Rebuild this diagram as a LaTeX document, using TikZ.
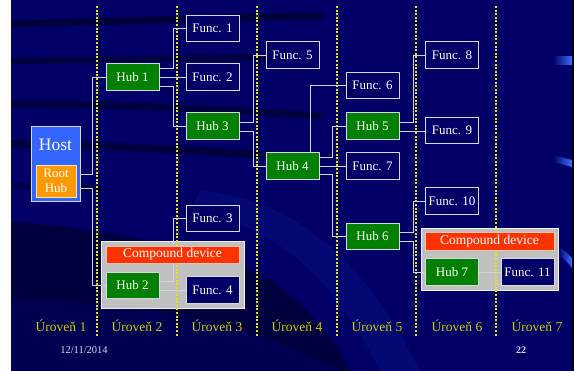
\documentclass[tikz,border=0pt]{standalone}
\usepackage{fontspec}
\setmainfont{Liberation Serif}
\usetikzlibrary{calc}

\definecolor{slidebg}{RGB}{0,0,102}
\definecolor{streakcol}{RGB}{0,0,30}
\definecolor{glowcol}{RGB}{20,30,150}
\definecolor{nodenavy}{RGB}{0,0,102}
\definecolor{hubgreen}{RGB}{0,128,0}
\definecolor{hostblue}{RGB}{51,102,255}
\definecolor{rootorange}{RGB}{255,153,0}
\definecolor{cdred}{RGB}{255,51,0}
\definecolor{cdgray}{RGB}{192,192,192}
\definecolor{edgecol}{RGB}{215,215,225}
\definecolor{wirecol}{RGB}{210,210,220}
\definecolor{levelyellow}{RGB}{204,204,0}
\definecolor{dotyellow}{RGB}{230,230,0}
\definecolor{glintblue}{RGB}{60,110,255}

\tikzset{
  box/.style={rectangle, draw=edgecol, line width=0.9pt, inner sep=0pt,
    minimum width=53pt, minimum height=26.5pt, text=white,
    font=\fontsize{13}{15}\selectfont},
  funcbox/.style={box, fill=nodenavy},
  hubbox/.style={box, fill=hubgreen},
  wire/.style={draw=wirecol, line width=0.9pt},
  levelline/.style={draw=dotyellow, line width=1.1pt, dash pattern=on 2pt off 1.6pt},
  leveltext/.style={text=levelyellow, font=\fontsize{13.5}{15}\selectfont, inner sep=0pt},
  streak/.style={draw=streakcol, line cap=round, opacity=0.75},
  cdframe/.style={rectangle, fill=cdgray, draw=white!80!cdgray, line width=0.8pt, inner sep=0pt},
  cdlabel/.style={rectangle, fill=cdred, draw=white!70!cdred, line width=0.6pt, inner sep=0pt,
    text=white, font=\fontsize{13.5}{15}\selectfont},
}

\begin{document}
\begin{tikzpicture}[x=1pt, y=-1pt]
\useasboundingbox (0,0) rectangle (574,371);

% slide background
\fill[white] (0,0) rectangle (11,371);
\fill[slidebg] (11,0) rectangle (572,371);
\fill[black] (572,0) rectangle (574,371);

% decorative dark sweeps of the slide template
\begin{scope}
  \clip (11,0) rectangle (572,371);
  \draw[streak, line width=7pt, opacity=0.6] (8,24) .. controls (120,21) and (220,18) .. (320,16);
  \draw[streak, line width=6pt, opacity=0.5] (8,61) .. controls (100,60) and (200,58) .. (290,57);
  \draw[streak, line width=7pt, opacity=0.5] (8,104) .. controls (100,104) and (200,108) .. (320,116);
  \draw[streak, line width=8pt, opacity=0.5] (8,144) .. controls (100,145) and (200,150) .. (300,158);
  \draw[streak, line width=6pt, opacity=0.4] (8,186) .. controls (40,186) and (70,187) .. (100,189);
  \fill[glowcol, opacity=0.25] (200,190) .. controls (290,200) and (360,250) .. (420,371)
        -- (380,371) .. controls (330,270) and (270,225) .. (190,210) -- cycle;
  \fill[streakcol, opacity=0.55] (8,222) .. controls (80,226) and (160,240) .. (240,265)
        .. controls (290,285) and (330,330) .. (350,371) -- (8,371) -- cycle;
  \fill[slidebg, opacity=0.55] (8,300) .. controls (120,300) and (250,320) .. (340,371) -- (8,371) -- cycle;
  % blue glints on the right edge
  \shade[left color=slidebg, right color=glintblue] (553,57) rectangle (572,65);
  \shade[left color=slidebg, right color=glintblue] (553,155) -- (572,160) -- (572,167) -- (553,162) -- cycle;
  \shade[left color=slidebg, right color=glintblue] (558,246) .. controls (564,250) and (568,254) .. (572,258)
        -- (572,268) .. controls (568,262) and (563,258) .. (558,255) -- cycle;
\end{scope}

% compound device frames
\node[cdframe, minimum width=143pt, minimum height=67pt] (cd1) at (172.5,274.5) {};
\node[cdframe, minimum width=137pt, minimum height=62pt] (cd2) at (489.5,259) {};

% level separators
\foreach \lx [count=\i] in {97,177,257,337,416,496} {
  \coordinate (sepTop\i) at (\lx,6);
  \coordinate (sepBot\i) at (\lx,336);
  \draw[levelline] (sepTop\i) -- (sepBot\i);
}

% host with root hub
\node[rectangle, fill=hostblue, draw=edgecol, line width=0.9pt, minimum width=49pt,
      minimum height=75pt, inner sep=0pt] (host) at (55.5,163.5) {};
\node[text=white, font=\fontsize{17.5}{19}\selectfont, inner sep=0pt] (hostlabel) at (55.5,145) {Host};
\node[rectangle, fill=rootorange, draw=white!70!rootorange, line width=0.6pt, minimum width=40pt,
      minimum height=32pt, inner sep=0pt, text=white, align=center,
      font=\fontsize{13}{15}\selectfont] (root) at (56,181) {Root\\Hub};

% devices
\node[hubbox]  (hub1)   at (132.5,77)   {Hub 1};
\node[funcbox] (func1)  at (212.5,28.5) {Func. 1};
\node[funcbox] (func2)  at (212.5,77)   {Func. 2};
\node[hubbox]  (hub3)   at (212.5,126)  {Hub 3};
\node[funcbox] (func5)  at (292.5,55)   {Func. 5};
\node[hubbox]  (hub4)   at (292.5,166)  {Hub 4};
\node[funcbox] (func6)  at (372.5,85.5) {Func. 6};
\node[hubbox]  (hub5)   at (372.5,126)  {Hub 5};
\node[funcbox] (func7)  at (372.5,166)  {Func. 7};
\node[funcbox] (func8)  at (452,55)     {Func. 8};
\node[funcbox] (func9)  at (452,130.5)  {Func. 9};
\node[funcbox] (func3)  at (212.5,218.5){Func. 3};
\node[hubbox]  (hub2)   at (132.5,285.5){Hub 2};
\node[funcbox] (func4)  at (212.5,290)  {Func. 4};
\node[funcbox] (func10) at (452,201)    {Func. 10};
\node[hubbox]  (hub6)   at (372.5,236.5){Hub 6};
\node[hubbox]  (hub7)   at (452,272)    {Hub 7};
\node[funcbox] (func11) at (527.5,272)  {Func. 11};

% cabling
\draw[wire] (host.east |- 0,174) -- (92,174) |- (hub1.west);
\draw[wire] (host.east |- 0,188) -- (92,188) |- (hub2.west);
\draw[wire] (hub1.east |- 0,68) -- (173,68) |- (func1.west);
\draw[wire] (hub1) -- (func2);
\draw[wire] (hub1.east |- 0,86) -- (173,86) |- (hub3.west);
\draw[wire] (hub3.east |- 0,122) -- (253,122) |- (func5.west);
\draw[wire] (hub3.east |- 0,131) -- (253,131) |- (hub4.west);
\draw[wire] (hub4.north -| 310,0) |- (func6.west);
\draw[wire] (hub4.east |- 0,157) -- (332,157) |- (hub5.west);
\draw[wire] (hub4) -- (func7);
\draw[wire] (hub4.east |- 0,174) -- (332,174) |- (hub6.west);
\draw[wire] (hub5.east |- 0,122) -- (413,122) |- (func8.west);
\draw[wire] (hub5.east |- 0,131) -- (func9.west |- 0,131);
\draw[wire] (hub6.east |- 0,232) -- (413,232) |- (func10.west);
\draw[wire] (hub6.east |- 0,241) -- (413,241) |- (hub7.west);
\draw[wire] (hub7) -- (func11);
\draw[wire] (hub2.east |- 0,281) -- (173,281) |- (func3.west);
\draw[wire] (hub2.east |- 0,290) -- (func4.west |- 0,290);

% compound device captions
\node[cdlabel, minimum width=133pt, minimum height=17pt] (cdl1) at (172.5,254.5) {Compound device};
\node[cdlabel, minimum width=129pt, minimum height=18pt] (cdl2) at (489.5,241) {Compound device};

% level captions
\node[leveltext] (lev1) at (61,326)  {Úroveň 1};
\node[leveltext] (lev2) at (137,326) {Úroveň 2};
\node[leveltext] (lev3) at (217,326) {Úroveň 3};
\node[leveltext] (lev4) at (297,326) {Úroveň 4};
\node[leveltext] (lev5) at (377,326) {Úroveň 5};
\node[leveltext] (lev6) at (457,326) {Úroveň 6};
\node[leveltext] (lev7) at (537,326) {Úroveň 7};

% footer
\node[text=white!85!slidebg, font=\fontsize{10.5}{12}\selectfont, inner sep=0pt] (date) at (84,350) {12/11/2014};
\node[text=white!85!slidebg, font=\fontsize{10}{12}\selectfont\bfseries, inner sep=0pt] (page) at (521,350) {22};
\end{tikzpicture}
\end{document}
